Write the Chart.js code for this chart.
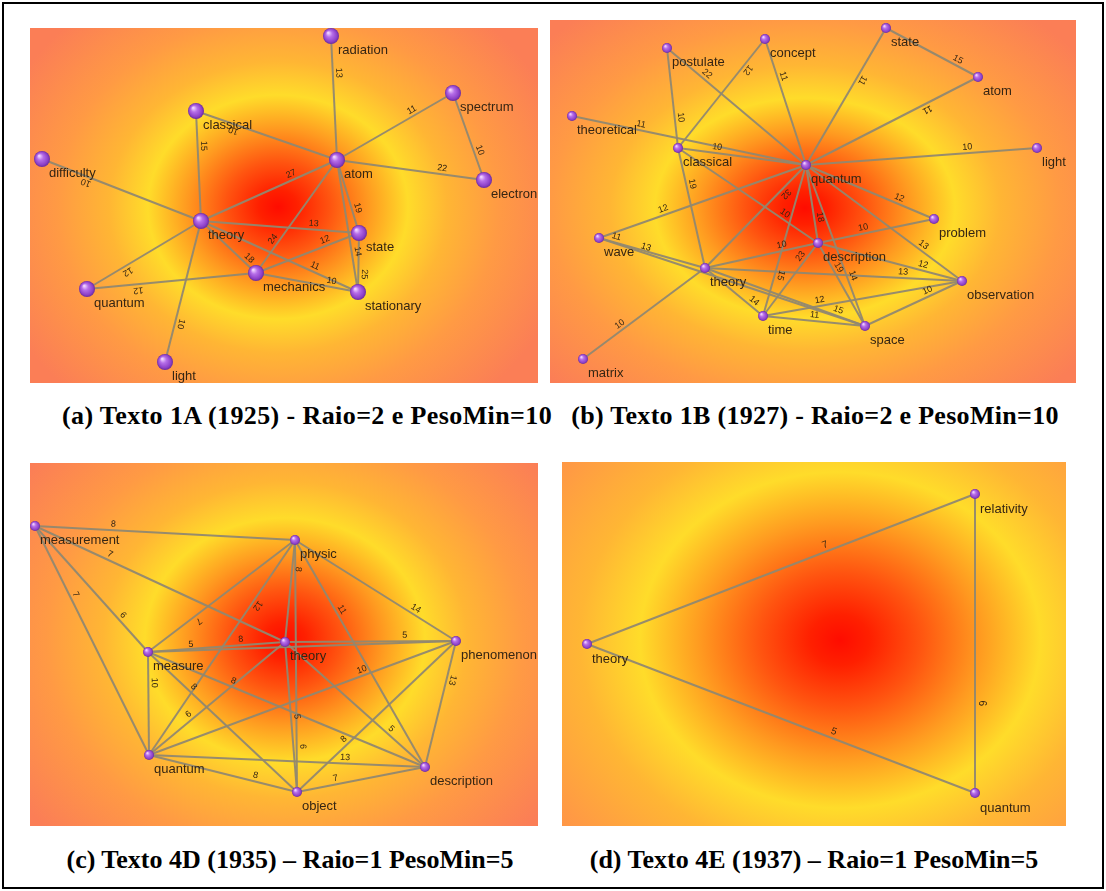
<!DOCTYPE html>
<html><head><meta charset="utf-8">
<script src="https://cdn.jsdelivr.net/npm/chart.js@4/dist/chart.umd.min.js"></script>
<style>
html,body{margin:0;padding:0;background:#fff;}
#wrap{position:relative;width:1106px;height:891px;overflow:hidden;background:#fff;}
#frame{position:absolute;left:2px;top:2px;width:1102px;height:887px;border:2px solid #000;box-sizing:border-box;}
canvas{position:absolute;}
.cap{position:absolute;width:640px;text-align:center;font:bold 26px 'Liberation Serif','Times New Roman',serif;color:#000;line-height:30px;white-space:nowrap;}
</style></head>
<body>
<div id="wrap">
<div id="frame"></div>
<canvas id="cA" width="508" height="355" style="left:30px;top:28px"></canvas>
<canvas id="cB" width="526" height="363" style="left:550px;top:20px"></canvas>
<canvas id="cC" width="508" height="363" style="left:30px;top:463px"></canvas>
<canvas id="cD" width="504" height="364" style="left:562px;top:462px"></canvas>
<div class="cap" id="capA" style="left:-13px;top:401px;letter-spacing:0.4px"></div>
<div class="cap" id="capB" style="left:495px;top:401px;letter-spacing:0.3px"></div>
<div class="cap" id="capC" style="left:-30px;top:845px"></div>
<div class="cap" id="capD" style="left:494px;top:845px"></div>
</div>
<script>
// ---------- DATA ----------
const captions = [
  "(a) Texto 1A (1925) - Raio=2 e PesoMin=10",
  "(b) Texto 1B (1927) - Raio=2 e PesoMin=10",
  "(c) Texto 4D (1935) \u2013 Raio=1 PesoMin=5",
  "(d) Texto 4E (1937) \u2013 Raio=1 PesoMin=5"
];

// Panel (a)
const A_nodes = ['radiation','spectrum','classical','difficulty','atom','electron','theory','state','mechanics','stationary','quantum','light'];
const A_x = [301,423,166,12,307,454,171,329,226,328,57,135];
const A_y = [8,65,83,131,132,152,193,205,245,264,261,334];
const A_from = ['radiation','atom','spectrum','atom','classical','atom','theory','theory','theory','theory','theory','theory','mechanics','theory','mechanics','mechanics','mechanics','atom','atom','state'];
const A_to   = ['atom','spectrum','electron','electron','theory','classical','difficulty','atom','state','mechanics','stationary','quantum','quantum','light','atom','state','stationary','state','stationary','stationary'];
const A_weight = [13,11,10,22,15,10,10,27,13,18,11,12,12,10,24,12,10,19,14,25];

// Panel (b)
const B_nodes = ['postulate','concept','state','atom','theoretical','classical','quantum','light','wave','theory','problem','description','observation','time','space','matrix'];
const B_x = [117,215,336,428,22,128,256,487,49,155,384,268,412,213,315,33];
const B_y = [28,19,8,57,96,128,145,128,218,248,199,223,261,296,306,339];
const B_from = ['postulate','postulate','concept','concept','state','state','atom','quantum','theoretical','classical','classical','classical','quantum','quantum','quantum','quantum','quantum','wave','wave','wave','theory','time','description','description','description','quantum','theory','theory','time','time','theory','space','matrix'];
const B_to   = ['classical','quantum','classical','quantum','quantum','atom','quantum','light','quantum','quantum','theory','description','problem','description','theory','time','space','quantum','theory','space','description','description','space','problem','observation','observation','time','space','observation','space','observation','observation','theory'];
const B_weight = [10,22,12,11,11,15,11,10,11,10,19,10,12,18,32,15,14,12,11,13,10,23,19,10,12,13,14,15,12,11,13,10,10];

// Panel (c)
const C_nodes = ['measurement','physic','theory','measure','phenomenon','quantum','object','description'];
const C_x = [5,265,255,118,426,119,267,395];
const C_y = [63,77,179,189,178,292,329,304];
const C_from = ['measurement','measurement','measurement','measurement','physic','physic','physic','physic','physic','physic','theory','theory','measure','measure','theory','quantum','measure','measure','measure','quantum','quantum','quantum','object','object','phenomenon'];
const C_to   = ['physic','theory','measure','quantum','theory','measure','quantum','description','phenomenon','object','object','phenomenon','theory','phenomenon','description','theory','quantum','description','object','phenomenon','description','object','description','phenomenon','description'];
const C_weight = [8,7,6,7,8,7,12,11,14,6,5,5,8,5,5,6,10,8,8,10,13,8,7,8,13];

// Panel (d)
const D_nodes = ['relativity','theory','quantum'];
const D_x = [413,25,413];
const D_y = [32,182,331];
const D_from = ['theory','relativity','theory'];
const D_to   = ['relativity','quantum','quantum'];
const D_weight = [7,6,5];

// ---------- LAYOUT / STYLE ----------
const A_labelT = [0.3,0.67,0.68,0.71,0.32,0.72,0.71,0.68,0.71,0.8,0.71,0.67,0.7,0.72,0.27,0.69,0.73,0.68,0.7,0.7];
const B_labelT = [0.7,0.26,0.25,0.31,0.36,0.75,0.31,0.7,0.29,0.3,0.31,0.74,0.71,0.68,0.24,0.72,0.7,0.32,0.15,0.17,0.69,0.77,0.33,0.4,0.72,0.73,0.78,0.82,0.29,0.5,0.77,0.67,0.33];
const C_labelT = [0.3,0.29,0.74,0.31,0.28,0.68,0.29,0.32,0.73,0.82,0.5,0.7,0.68,0.14,0.73,0.32,0.3,0.3,0.28,0.7,0.71,0.71,0.31,0.32,0.3];
const D_labelT = [0.62,0.7,0.63];

const panels = [
  {id:'cA', cap:'capA', W:508, H:355, nodes:A_nodes, xs:A_x, ys:A_y, from:A_from, to:A_to, w:A_weight, t:A_labelT,
   grad:{cx:248, cy:179, rx:130, ry:112}, nodeR:8, lblFont:9, dx:7, dy:14},
  {id:'cB', cap:'capB', W:526, H:363, nodes:B_nodes, xs:B_x, ys:B_y, from:B_from, to:B_to, w:B_weight, t:B_labelT,
   grad:{cx:255, cy:188, rx:150, ry:110}, nodeR:5, lblFont:9, dx:5, dy:14},
  {id:'cC', cap:'capC', W:508, H:363, nodes:C_nodes, xs:C_x, ys:C_y, from:C_from, to:C_to, w:C_weight, t:C_labelT,
   grad:{cx:255, cy:177, rx:140, ry:122}, nodeR:5, lblFont:9, dx:5, dy:14},
  {id:'cD', cap:'capD', W:504, H:364, nodes:D_nodes, xs:D_x, ys:D_y, from:D_from, to:D_to, w:D_weight, t:D_labelT,
   grad:{cx:278, cy:178, rx:200, ry:168}, nodeR:5, lblFont:10, dx:5, dy:15}
];

const GRAD_STOPS = [[0,'#ff0c00'],[0.15,'#ff2000'],[0.4,'#ff5410'],[0.7,'#ff9a20'],[1.0,'#ffdc2a'],[1.3,'#ffb634'],[1.7,'#ff9a44'],[2.3,'#fb7e56']];
const EDGE_COLOR = 'rgba(145,136,112,0.95)';
const TEXT_COLOR = '#352513';

function sphere(r){
  const c=document.createElement('canvas'); const s=Math.ceil(2*r+2); c.width=s; c.height=s;
  const x=c.getContext('2d'); const cx=s/2, cy=s/2;
  const g=x.createRadialGradient(cx-r*0.35, cy-r*0.4, r*0.08, cx, cy, r);
  g.addColorStop(0,'#f0d0ff'); g.addColorStop(0.35,'#b66ee8'); g.addColorStop(0.8,'#8d40c8'); g.addColorStop(1,'#6a2a9c');
  x.fillStyle=g; x.beginPath(); x.arc(cx,cy,r,0,Math.PI*2); x.fill();
  return c;
}

function makePlugin(p){
  return {
    id:'net_'+p.id,
    beforeDatasetsDraw(chart){
      const ctx=chart.ctx, sx=chart.scales.x, sy=chart.scales.y;
      ctx.save();
      ctx.beginPath(); ctx.rect(0,0,chart.width,chart.height); ctx.clip();
      const cx=sx.getPixelForValue(p.grad.cx), cy=sy.getPixelForValue(p.grad.cy);
      ctx.translate(cx,cy); ctx.scale(p.grad.rx,p.grad.ry);
      const maxR=GRAD_STOPS[GRAD_STOPS.length-1][0];
      const g=ctx.createRadialGradient(0,0,0,0,0,maxR);
      GRAD_STOPS.forEach(s=>g.addColorStop(s[0]/maxR,s[1]));
      ctx.fillStyle=g; ctx.fillRect(-20,-20,40,40);
      ctx.restore();
    },
    afterDatasetsDraw(chart){
      const ctx=chart.ctx, sx=chart.scales.x, sy=chart.scales.y;
      const idx={}; p.nodes.forEach((n,i)=>idx[n]=i);
      ctx.save();
      ctx.fillStyle=TEXT_COLOR; ctx.font=p.lblFont+'px Arial, "Liberation Sans", sans-serif';
      ctx.textAlign='center'; ctx.textBaseline='bottom';
      p.from.forEach((f,k)=>{
        const a=idx[f], b=idx[p.to[k]];
        const x1=sx.getPixelForValue(p.xs[a]), y1=sy.getPixelForValue(p.ys[a]);
        const x2=sx.getPixelForValue(p.xs[b]), y2=sy.getPixelForValue(p.ys[b]);
        const t=p.t[k];
        const lx=x1+(x2-x1)*t, ly=y1+(y2-y1)*t;
        ctx.save(); ctx.translate(lx,ly); ctx.rotate(Math.atan2(y2-y1,x2-x1));
        ctx.fillText(String(p.w[k]),0,-1.5); ctx.restore();
      });
      ctx.font='13px Arial, "Liberation Sans", sans-serif'; ctx.textAlign='left'; ctx.textBaseline='middle';
      p.nodes.forEach((n,i)=>{
        const x=sx.getPixelForValue(p.xs[i]), y=sy.getPixelForValue(p.ys[i]);
        ctx.fillText(n, x+p.dx, y+p.dy);
      });
      ctx.restore();
    }
  };
}

panels.forEach((p,pi)=>{
  document.getElementById(p.cap).textContent = captions[pi];
  const idx={}; p.nodes.forEach((n,i)=>idx[n]=i);
  const datasets=[];
  datasets.push({
    label:'nodes',
    data:p.nodes.map((n,i)=>({x:p.xs[i], y:p.ys[i]})),
    pointStyle:sphere(p.nodeR), pointRadius:p.nodeR, order:0, clip:false
  });
  p.from.forEach((f,k)=>{
    const a=idx[f], b=idx[p.to[k]];
    datasets.push({
      label:f+'-'+p.to[k],
      data:[{x:p.xs[a],y:p.ys[a]},{x:p.xs[b],y:p.ys[b]}],
      showLine:true, borderColor:EDGE_COLOR, borderWidth:2, pointRadius:0, fill:false, order:1, clip:false
    });
  });
  new Chart(document.getElementById(p.id), {
    type:'scatter',
    data:{datasets},
    options:{
      responsive:false, animation:false, events:[],
      layout:{padding:0, autoPadding:false},
      plugins:{legend:{display:false}, tooltip:{enabled:false}},
      scales:{
        x:{type:'linear', min:0, max:p.W, display:false},
        y:{type:'linear', min:0, max:p.H, reverse:true, display:false}
      }
    },
    plugins:[makePlugin(p)]
  });
});
</script>
</body></html>
